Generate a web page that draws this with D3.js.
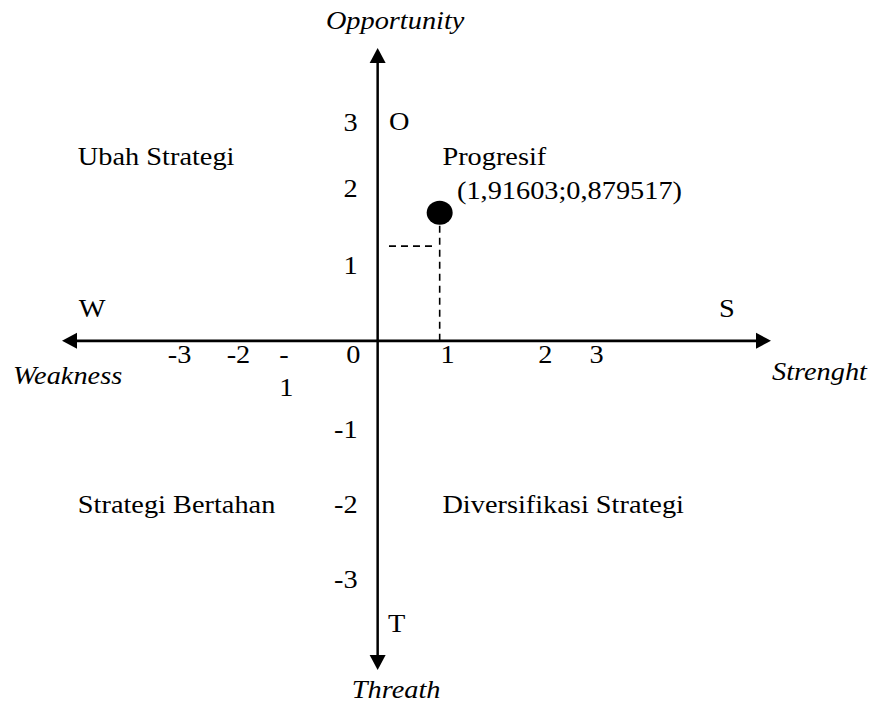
<!DOCTYPE html>
<html>
<head>
<meta charset="utf-8">
<script src="https://cdn.jsdelivr.net/npm/d3@7"></script>
<style>
  body { margin: 0; background: #fff; }
  text { font-family: "Liberation Serif", "Times New Roman", serif; font-size: 26px; fill: #000; }
  .italic { font-style: italic; }
</style>
</head>
<body>
<div id="chart"></div>
<script>

  // ---------------------------//
  //            DATA            //
  // ---------------------------//

  // position of the company in the SWOT diagram (Strength-Weakness ; Opportunity-Threat)
  var point = [1.91603, 0.879517];
  var pointLabel = "(1,91603;0,879517)";
  var pointLabelAt = [2.45, 0.97];

  // dashed helper line to the y axis
  var guideY = 0.65;
  var guideFrom = 0.35;
  var guideTo = 1.68;

  // tick labels as they are placed in the picture
  var xTickLabels = ["-3", "-2", "-1", "0", "1", "2", "3"];
  var xTickAt = [-6.12, -4.30, -2.89, -0.75, 2.16, 5.18, 6.76];
  var yTickLabels = ["3", "2", "1", "-1", "-2", "-3"];
  var yTickAt = [1.44, 0.99, 0.46, -0.67, -1.18, -1.70];

  // quadrants
  var quadrantNames = ["Ubah Strategi", "Progresif", "Strategi Bertahan", "Diversifikasi Strategi"];
  var quadrantX = [-9.26, 2.00, -9.26, 2.00];
  var quadrantY = [1.21, 1.21, -1.18, -1.18];

  // axis letters and titles
  var letters = ["O", "T", "W", "S"];
  var letterX = [0.35, 0.32, -8.82, 10.79];
  var letterY = [1.45, -2.00, 0.16, 0.16];
  var axisTitles = ["Opportunity", "Threath", "Weakness", "Strenght"];
  var titleX = [0.54, 0.57, -11.26, 12.18];
  var titleY = [2.14, -2.45, -0.30, -0.27];

  var xDomain = [-9.75, 12.15];
  var yDomain = [-2.26, 2.01];

  // ---------------------------//
  //         DIMENSIONS         //
  // ---------------------------//

  var width = 872;
  var height = 704;
  var margin = { top: 48, right: 101, bottom: 34, left: 62 };
  var arrowLen = 15;
  var arrowHalf = 8;
  var stretch = 1.09;   // the original figure is slightly wider than tall

  var svg = d3.select("#chart")
    .append("svg")
    .attr("width", width)
    .attr("height", height)
    .attr("viewBox", [0, 0, width, height]);

  svg.append("rect")
    .attr("width", width)
    .attr("height", height)
    .attr("fill", "#fff");

  // ---------------------------//
  //           SCALES           //
  // ---------------------------//

  var x = d3.scaleLinear()
    .domain(xDomain)
    .range([margin.left, width - margin.right]);

  var y = d3.scaleLinear()
    .domain(yDomain)
    .range([height - margin.bottom, margin.top]);

  function at(px, py) {
    return "translate(" + px + "," + py + ") scale(" + stretch + ",1)";
  }

  // ---------------------------//
  //            AXES            //
  // ---------------------------//

  var x0 = x(0), y0 = y(0);
  var xL = x(xDomain[0]), xR = x(xDomain[1]);
  var yT = y(yDomain[1]), yB = y(yDomain[0]);

  svg.append("line")
    .attr("x1", xL + arrowLen).attr("x2", xR - arrowLen)
    .attr("y1", y0).attr("y2", y0)
    .attr("stroke", "#000").attr("stroke-width", 2.8);

  svg.append("line")
    .attr("x1", x0).attr("x2", x0)
    .attr("y1", yT + arrowLen).attr("y2", yB - arrowLen)
    .attr("stroke", "#000").attr("stroke-width", 2.5);

  var heads = [
    [[xL, y0], [xL + arrowLen, y0 - arrowHalf], [xL + arrowLen, y0 + arrowHalf]],
    [[xR, y0], [xR - arrowLen, y0 - arrowHalf], [xR - arrowLen, y0 + arrowHalf]],
    [[x0, yT], [x0 - arrowHalf, yT + arrowLen], [x0 + arrowHalf, yT + arrowLen]],
    [[x0, yB], [x0 - arrowHalf, yB - arrowLen], [x0 + arrowHalf, yB - arrowLen]]
  ];

  svg.selectAll(".head")
    .data(heads)
    .enter()
    .append("path")
    .attr("class", "head")
    .attr("d", function(d) { return "M" + d.join("L") + "Z"; })
    .attr("fill", "#000");

  // tick labels on the horizontal axis
  var xt = svg.selectAll(".xtick")
    .data(xTickLabels)
    .enter()
    .append("text")
    .attr("class", "xtick")
    .attr("text-anchor", "middle")
    .attr("transform", function(d, i) { return at(x(xTickAt[i]), y0 + 22); });

  // "-1" is broken over two lines in the original
  xt.each(function(d) {
    var t = d3.select(this);
    if (d === "-1") {
      t.append("tspan").attr("x", 0).text("-");
      t.append("tspan").attr("x", 2).attr("dy", 33).text("1");
    } else {
      t.text(d);
    }
  });

  // tick labels on the vertical axis
  svg.selectAll(".ytick")
    .data(yTickLabels)
    .enter()
    .append("text")
    .attr("class", "ytick")
    .attr("text-anchor", "end")
    .attr("transform", function(d, i) { return at(x0 - 20, y(yTickAt[i])); })
    .text(function(d) { return d; });

  // ---------------------------//
  //           LABELS           //
  // ---------------------------//

  svg.selectAll(".letter")
    .data(letters)
    .enter()
    .append("text")
    .attr("class", "letter")
    .attr("text-anchor", function(d, i) { return i < 2 ? "start" : "middle"; })
    .attr("transform", function(d, i) { return at(x(letterX[i]), y(letterY[i])); })
    .text(function(d) { return d; });

  svg.selectAll(".title")
    .data(axisTitles)
    .enter()
    .append("text")
    .attr("class", "title italic")
    .attr("text-anchor", function(d, i) { return i < 2 ? "middle" : "start"; })
    .attr("transform", function(d, i) { return at(x(titleX[i]), y(titleY[i])); })
    .text(function(d) { return d; });

  svg.selectAll(".quadrant")
    .data(quadrantNames)
    .enter()
    .append("text")
    .attr("class", "quadrant")
    .attr("transform", function(d, i) { return at(x(quadrantX[i]), y(quadrantY[i])); })
    .text(function(d) { return d; });

  // ---------------------------//
  //            POINT           //
  // ---------------------------//

  var ry = 12;

  svg.append("line")
    .attr("x1", x(point[0])).attr("x2", x(point[0]))
    .attr("y1", y0).attr("y2", y(point[1]) + ry)
    .attr("stroke", "#000").attr("stroke-width", 1.6)
    .attr("stroke-dasharray", "7,5");

  svg.append("line")
    .attr("x1", x(guideFrom)).attr("x2", x(guideTo))
    .attr("y1", y(guideY)).attr("y2", y(guideY))
    .attr("stroke", "#000").attr("stroke-width", 1.6)
    .attr("stroke-dasharray", "7,5");

  svg.append("ellipse")
    .attr("cx", x(point[0]))
    .attr("cy", y(point[1]))
    .attr("rx", 13)
    .attr("ry", ry)
    .attr("fill", "#000");

  svg.append("text")
    .attr("transform", at(x(pointLabelAt[0]), y(pointLabelAt[1])))
    .text(pointLabel);

</script>
</body>
</html>
